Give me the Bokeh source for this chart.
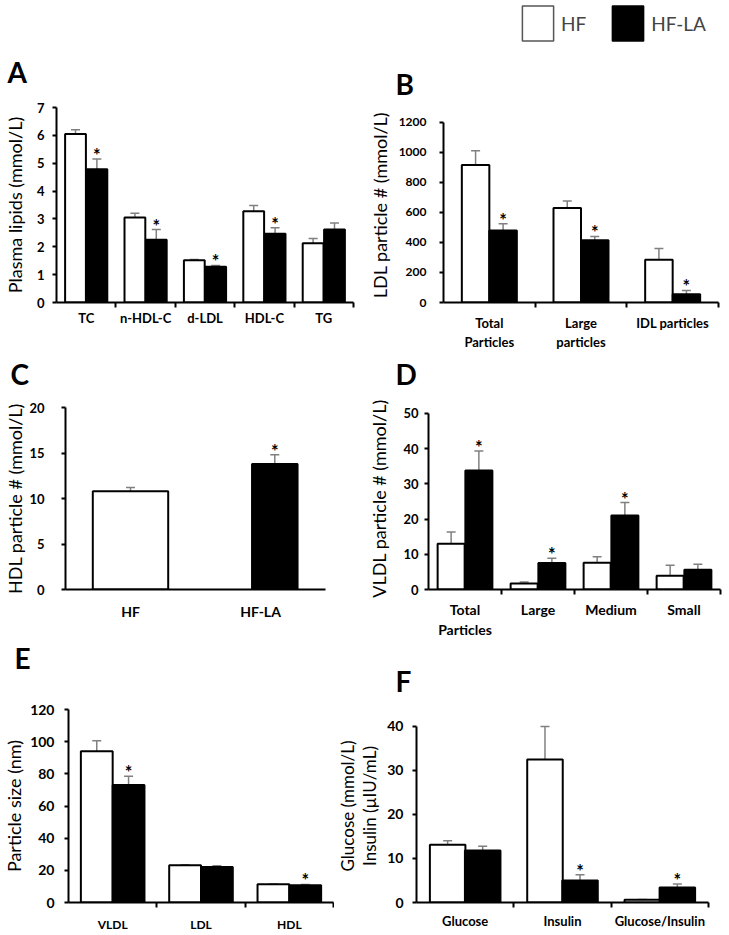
import numpy as np
from bokeh.plotting import figure
from bokeh.models import (ColumnDataSource, Whisker, TeeHead, Range1d, FixedTicker,
                          Legend, LegendItem, Label)
from bokeh.layouts import column, row
from bokeh.embed import file_html
from bokeh.resources import INLINE
from bokeh.core.properties import value

FONT = "Lato"
GRAY = "#808080"

# ---------------- data ----------------
series_names = ["HF", "HF-LA"]

# Panel A
a_cats = ["TC", "n-HDL-C", "d-LDL", "HDL-C", "TG"]
a_hf = [6.05, 3.05, 1.52, 3.28, 2.13]
a_hf_err = [0.15, 0.15, 0.02, 0.20, 0.17]
a_la = [4.78, 2.25, 1.28, 2.47, 2.62]
a_la_err = [0.37, 0.37, 0.05, 0.21, 0.23]
a_sig = [True, True, True, True, False]
a_yticks = [0, 1, 2, 3, 4, 5, 6, 7]

# Panel B
b_cats = ["Total\nParticles", "Large\nparticles", "IDL particles"]
b_hf = [915, 630, 285]
b_hf_err = [95, 45, 75]
b_la = [480, 415, 55]
b_la_err = [45, 25, 25]
b_sig = [True, True, True]
b_yticks = [0, 200, 400, 600, 800, 1000, 1200]

# Panel C
c_cats = ["HF", "HF-LA"]
c_vals = [10.8, 13.8]
c_err = [0.4, 1.0]
c_sig = [False, True]
c_yticks = [0, 5, 10, 15, 20]

# Panel D
d_cats = ["Total\nParticles", "Large", "Medium", "Small"]
d_hf = [13.0, 1.7, 7.6, 3.9]
d_hf_err = [3.3, 0.4, 1.7, 3.0]
d_la = [33.8, 7.5, 21.0, 5.6]
d_la_err = [5.5, 1.4, 3.7, 1.6]
d_sig = [True, True, True, False]
d_yticks = [0, 10, 20, 30, 40, 50]

# Panel E
e_cats = ["VLDL", "LDL", "HDL"]
e_hf = [94.0, 23.2, 11.3]
e_hf_err = [6.5, 0.3, 0.2]
e_la = [73.0, 22.0, 10.8]
e_la_err = [5.5, 0.8, 0.4]
e_sig = [True, False, True]
e_yticks = [0, 20, 40, 60, 80, 100, 120]

# Panel F
f_cats = ["Glucose", "Insulin", "Glucose/Insulin"]
f_hf = [13.1, 32.5, 0.6]
f_hf_err = [0.9, 7.5, 0.1]
f_la = [11.8, 5.0, 3.4]
f_la_err = [1.0, 1.3, 0.8]
f_sig = [False, True, True]
f_yticks = [0, 10, 20, 30, 40]

panel_letters = ["A", "B", "C", "D", "E", "F"]


def blank(width, height):
    s = figure(width=width, height=height, toolbar_location=None, output_backend="svg",
               min_border=0, x_range=Range1d(0, 1), y_range=Range1d(0, 1),
               x_axis_location=None, y_axis_location=None)
    s.outline_line_color = None
    s.xgrid.visible = False
    s.ygrid.visible = False
    return s


def letter_strip(height, items):
    s = blank(729, height)
    for text, lx, ly in items:
        s.add_layout(Label(x=lx, y=ly, x_units="screen", y_units="screen", text=text,
                           text_font=FONT, text_font_size="28px", text_font_style="bold",
                           text_color="black", text_baseline="alphabetic",
                           text_align="left"))
    return s


def make_fig(cats, yticks, ylabel, geo, txt, minor=True):
    W, H, bl, br, bt, bb, ext = geo
    tick_fs, ystand, ylab_stand, cat_fs, xstand, ylab_fs, ylab_lh = txt
    n = len(cats)
    p = figure(width=W, height=H, min_border_left=bl, min_border_right=br,
               min_border_top=bt, min_border_bottom=bb,
               x_range=Range1d(-0.5, n - 0.5),
               y_range=Range1d(yticks[0], yticks[-1] * ext),
               toolbar_location=None, output_backend="svg")
    p.outline_line_color = None
    p.xgrid.visible = False
    p.ygrid.visible = False
    p.background_fill_color = "white"
    p.border_fill_color = "white"
    for ax in (p.xaxis[0], p.yaxis[0]):
        ax.axis_line_color = "black"
        ax.axis_line_width = 2
        ax.major_label_text_font = FONT
        ax.major_label_text_font_style = "bold"
        ax.major_label_text_color = "black"
        ax.axis_label_text_font = FONT
        ax.axis_label_text_font_style = "normal"
        ax.axis_label_text_color = "black"
    ya = p.yaxis[0]
    ya.ticker = FixedTicker(ticks=yticks, minor_ticks=[])
    ya.bounds = (yticks[0], yticks[-1])
    ya.major_label_text_font_size = tick_fs
    ya.major_tick_out = 4
    ya.major_tick_in = 0
    ya.major_tick_line_width = 2
    ya.major_tick_line_color = "black"
    ya.minor_tick_line_color = None
    ya.major_label_standoff = ystand
    ya.axis_label = ylabel
    ya.axis_label_standoff = ylab_stand
    ya.axis_label_text_font_size = ylab_fs
    ya.axis_label_text_line_height = ylab_lh
    xa = p.xaxis[0]
    xa.ticker = FixedTicker(ticks=list(range(n)),
                            minor_ticks=[i + 0.5 for i in range(n)] if minor else [])
    xa.major_label_overrides = {i: c for i, c in enumerate(cats)}
    xa.major_label_text_font_size = cat_fs
    xa.major_tick_out = 0
    xa.major_tick_in = 0
    xa.major_tick_line_color = None
    xa.minor_tick_out = 5
    xa.minor_tick_in = 0
    xa.minor_tick_line_width = 2
    xa.minor_tick_line_color = "black"
    xa.major_label_standoff = xstand
    return p


def add_bars(p, xs, vals, errs, fill, width):
    up = list(np.array(vals) + np.array(errs))
    src = ColumnDataSource(dict(x=list(xs), top=list(vals), up=up))
    p.vbar(x="x", top="top", bottom=0, width=width, source=src, fill_color=fill,
           line_color="black", line_width=2)
    p.add_layout(Whisker(source=src, base="x", lower="top", upper="up",
                         line_color=GRAY, line_width=1.5,
                         upper_head=TeeHead(size=9, line_color=GRAY, line_width=1.5),
                         lower_head=None))
    return up


def add_stars(p, xs, tops, sig):
    sx = [x for x, s in zip(xs, sig) if s]
    sy = [t for t, s in zip(tops, sig) if s]
    if sx:
        p.text(x=sx, y=sy, text=["*"] * len(sx), text_font=value(FONT),
               text_font_size="18px", text_font_style="bold", text_align="center",
               text_baseline="alphabetic", text_color="black", y_offset=-4)


def grouped(p, n, hf, hf_err, la, la_err, sig, bw, off):
    idx = np.arange(n)
    add_bars(p, idx - off, hf, hf_err, "white", bw)
    up = add_bars(p, idx + off, la, la_err, "black", bw)
    add_stars(p, list(idx + off), up, sig)


# geo: width, height, border l, r, t, b, y-extension
# txt: ytick size, ytick standoff, ylabel standoff, category size, category standoff,
#      ylabel size, ylabel line height
pA = make_fig(a_cats, a_yticks, "Plasma lipids (mmol/L)",
              (365, 252, 55, 12, 7, 47, 1.0),
              ("13px", 8, 8, "13px", 2, "18px", 1.2))
grouped(pA, len(a_cats), a_hf, a_hf_err, a_la, a_la_err, a_sig, 0.35, 0.18)

pB = make_fig(b_cats, b_yticks, "LDL particle # (mmol/L)",
              (364, 252, 75, 11, 7, 47, 198 / 183),
              ("12px", 13, 5, "13px", 7, "18px", 1.2))
grouped(pB, len(b_cats), b_hf, b_hf_err, b_la, b_la_err, b_sig, 0.30, 0.15)

pC = make_fig(c_cats, c_yticks, "HDL particle # (mmol/L)",
              (365, 240, 65, 40, 7, 48, 1.0),
              ("13px", 17, 0, "14px", 13, "18px", 1.2), minor=False)
add_bars(pC, [0], c_vals[:1], c_err[:1], "white", 0.58)
upC = add_bars(pC, [1.11], c_vals[1:], c_err[1:], "black", 0.35)
add_stars(pC, [1.11], upC, c_sig[1:])

pD = make_fig(d_cats, d_yticks, "VLDL particle # (mmol/L)",
              (364, 240, 58, 9, 7, 48, 185 / 179),
              ("13px", 6, 10, "14px", 6, "18px", 1.2))
grouped(pD, len(d_cats), d_hf, d_hf_err, d_la, d_la_err, d_sig, 0.37, 0.19)

pE = make_fig(e_cats, e_yticks, "Particle size (nm)",
              (334, 234, 67, 1, 9, 31, 1.0),
              ("14px", 10, 2, "12px", 9, "18px", 1.2))
grouped(pE, len(e_cats), e_hf, e_hf_err, e_la, e_la_err, e_sig, 0.36, 0.18)

pF = make_fig(f_cats, f_yticks, "Glucose (mmol/L)\nInsulin (\u00b5IU/mL)",
              (395, 234, 76, 21, 9, 31, 194 / 177),
              ("14px", 9, 4, "13px", 5, "17px", 1.05))
grouped(pF, len(f_cats), f_hf, f_hf_err, f_la, f_la_err, f_sig, 0.365, 0.18)

# panel letter strips (x from left, y measured up from strip bottom)
s1 = letter_strip(52, [(panel_letters[0], 7, 29), (panel_letters[1], 395, 17)])
s2 = letter_strip(48, [(panel_letters[2], 10, 27), (panel_letters[3], 395, 27)])
s3 = letter_strip(60, [(panel_letters[4], 14, 43), (panel_letters[5], 395, 20)])

# Legend strip
lg = blank(729, 48)
r1 = lg.rect(x=[np.nan], y=[np.nan], width=1, height=1, fill_color="white",
             line_color="#555555", line_width=1.5)
r2 = lg.rect(x=[np.nan], y=[np.nan], width=1, height=1, fill_color="black",
             line_color="black", line_width=1.5)
leg = Legend(items=[LegendItem(label=series_names[0], renderers=[r1]),
                    LegendItem(label=series_names[1], renderers=[r2])],
             orientation="horizontal", location=(518, 3), glyph_width=39, glyph_height=44,
             label_text_font=FONT, label_text_font_size="19px", label_standoff=4,
             spacing=22, padding=0, margin=0, border_line_color=None,
             background_fill_alpha=0)
lg.add_layout(leg)

layout = column(lg, s1, row(pA, pB), s2, row(pC, pD), s3, row(pE, pF))
open("out.html", "w").write(file_html(layout, INLINE))
